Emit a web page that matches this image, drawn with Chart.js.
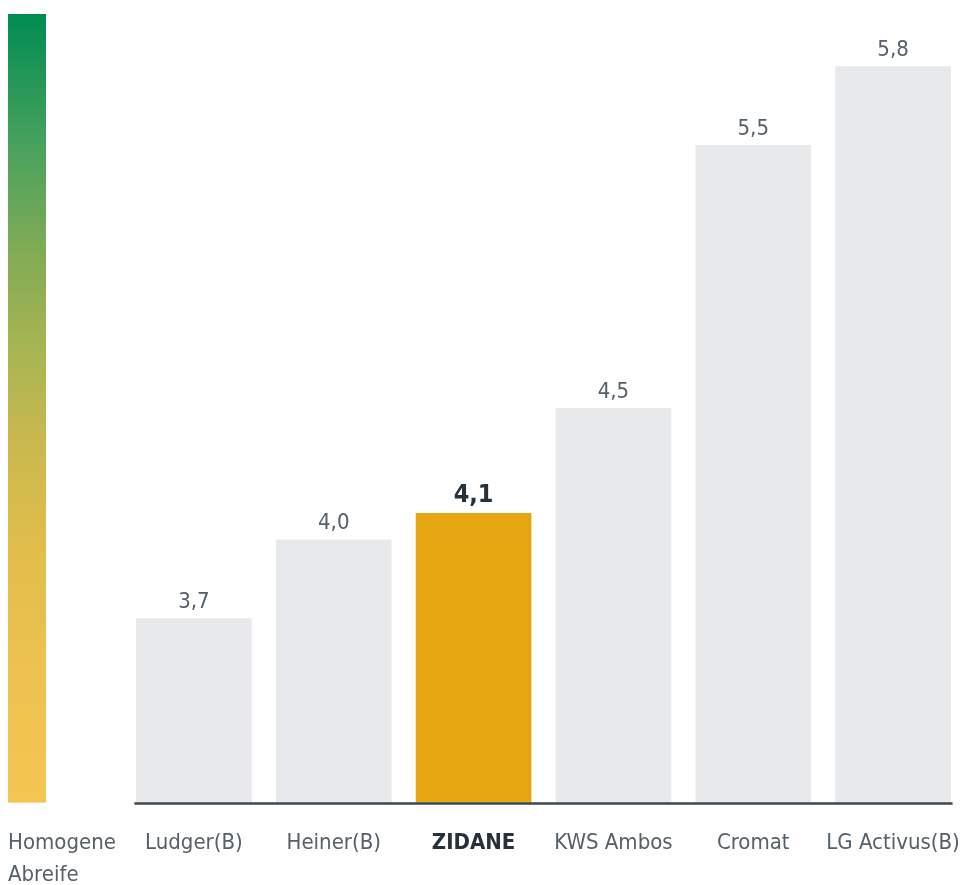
<!DOCTYPE html>
<html>
<head>
<meta charset="utf-8">
<script src="https://cdn.jsdelivr.net/npm/chart.js@4"></script>
<style>
  body { margin: 0; background: #fff; }
  #wrap { width: 963px; height: 885px; position: relative; }
</style>
</head>
<body>
<div id="wrap"><canvas id="abreife"></canvas></div>
<script>
var varieties = ['Ludger(B)', 'Heiner(B)', 'ZIDANE', 'KWS Ambos', 'Cromat', 'LG Activus(B)'];
var homogenitaet = [3.7, 4.0, 4.1, 4.5, 5.5, 5.8];
var highlight = 'ZIDANE';
var scaleLabel = ['Homogene', 'Abreife'];
var scaleMin = 3;
var scaleMax = 6;

var fontFamily = '"Liberation Sans Narrow", "DejaVu Sans Condensed", "Roboto", sans-serif';
var textColor = '#55606b';
var darkText = '#27313b';

function fmt(v) {
    return v.toFixed(1).replace('.', ',');
}

// gradient legend bar on the left plus the "Homogene Abreife" caption
var scaleBarPlugin = {
    id: 'scaleBar',
    beforeDatasetsDraw: function(chart) {
        var ctx = chart.ctx;
        var y = chart.scales.y;
        var top = y.getPixelForValue(scaleMax);
        var bottom = y.getPixelForValue(scaleMin);
        var grad = ctx.createLinearGradient(0, top, 0, bottom);
        grad.addColorStop(0, '#008c52');
        grad.addColorStop(0.17, '#4aa25e');
        grad.addColorStop(0.3, '#80ab55');
        grad.addColorStop(0.43, '#a9b552');
        grad.addColorStop(0.55, '#cbb94d');
        grad.addColorStop(0.68, '#e1bd4b');
        grad.addColorStop(0.81, '#ecc14d');
        grad.addColorStop(1, '#f4c651');
        ctx.save();
        ctx.fillStyle = grad;
        ctx.fillRect(8, top, 38, bottom - top);
        ctx.fillStyle = textColor;
        ctx.font = '22px ' + fontFamily;
        ctx.textAlign = 'left';
        ctx.textBaseline = 'middle';
        ctx.fillText(scaleLabel[0], 8, bottom + 41);
        ctx.fillText(scaleLabel[1], 8, bottom + 73);
        ctx.restore();
    }
};

// base line under the bars and the value labels on top
var valuePlugin = {
    id: 'values',
    afterDatasetsDraw: function(chart) {
        var ctx = chart.ctx;
        var meta = chart.getDatasetMeta(0);
        var first = meta.data[0], last = meta.data[meta.data.length - 1];
        var base = chart.scales.y.getPixelForValue(scaleMin);
        ctx.save();
        ctx.strokeStyle = '#3c4751';
        ctx.lineWidth = 2.5;
        ctx.beginPath();
        ctx.moveTo(first.x - first.width / 2 - 2, base + 1);
        ctx.lineTo(last.x + last.width / 2 + 2, base + 1);
        ctx.stroke();
        ctx.textAlign = 'center';
        ctx.textBaseline = 'bottom';
        meta.data.forEach(function(bar, i) {
            var hi = varieties[i] === highlight;
            ctx.font = (hi ? 'bold 25px ' : '22px ') + fontFamily;
            ctx.fillStyle = hi ? darkText : textColor;
            ctx.fillText(fmt(homogenitaet[i]), bar.x, bar.y - 5);
        });
        ctx.restore();
    }
};

var abreifeChart = new Chart(document.getElementById('abreife').getContext('2d'), {
    type: 'bar',
    data: {
        labels: varieties,
        datasets: [{
            data: homogenitaet,
            backgroundColor: varieties.map(function(v) { return v === highlight ? '#e6a612' : '#e8e9eb'; }),
            barThickness: 115,
            borderWidth: 0
        }]
    },
    options: {
        responsive: true,
        maintainAspectRatio: false,
        animation: false,
        layout: { padding: { left: 124, right: 0, top: 14, bottom: 29 } },
        plugins: { legend: { display: false }, tooltip: { enabled: false } },
        scales: {
            x: {
                grid: { display: false, drawTicks: true, tickLength: 27 },
                border: { display: false },
                ticks: {
                    padding: 0,
                    autoSkip: false,
                    maxRotation: 0,
                    color: function(c) { return varieties[c.index] === highlight ? darkText : textColor; },
                    font: function(c) {
                        var hi = varieties[c.index] === highlight;
                        return { family: fontFamily, size: 22, weight: hi ? 'bold' : 'normal' };
                    }
                }
            },
            y: {
                display: false,
                min: scaleMin,
                max: scaleMax
            }
        }
    },
    plugins: [scaleBarPlugin, valuePlugin]
});
</script>
</body>
</html>
